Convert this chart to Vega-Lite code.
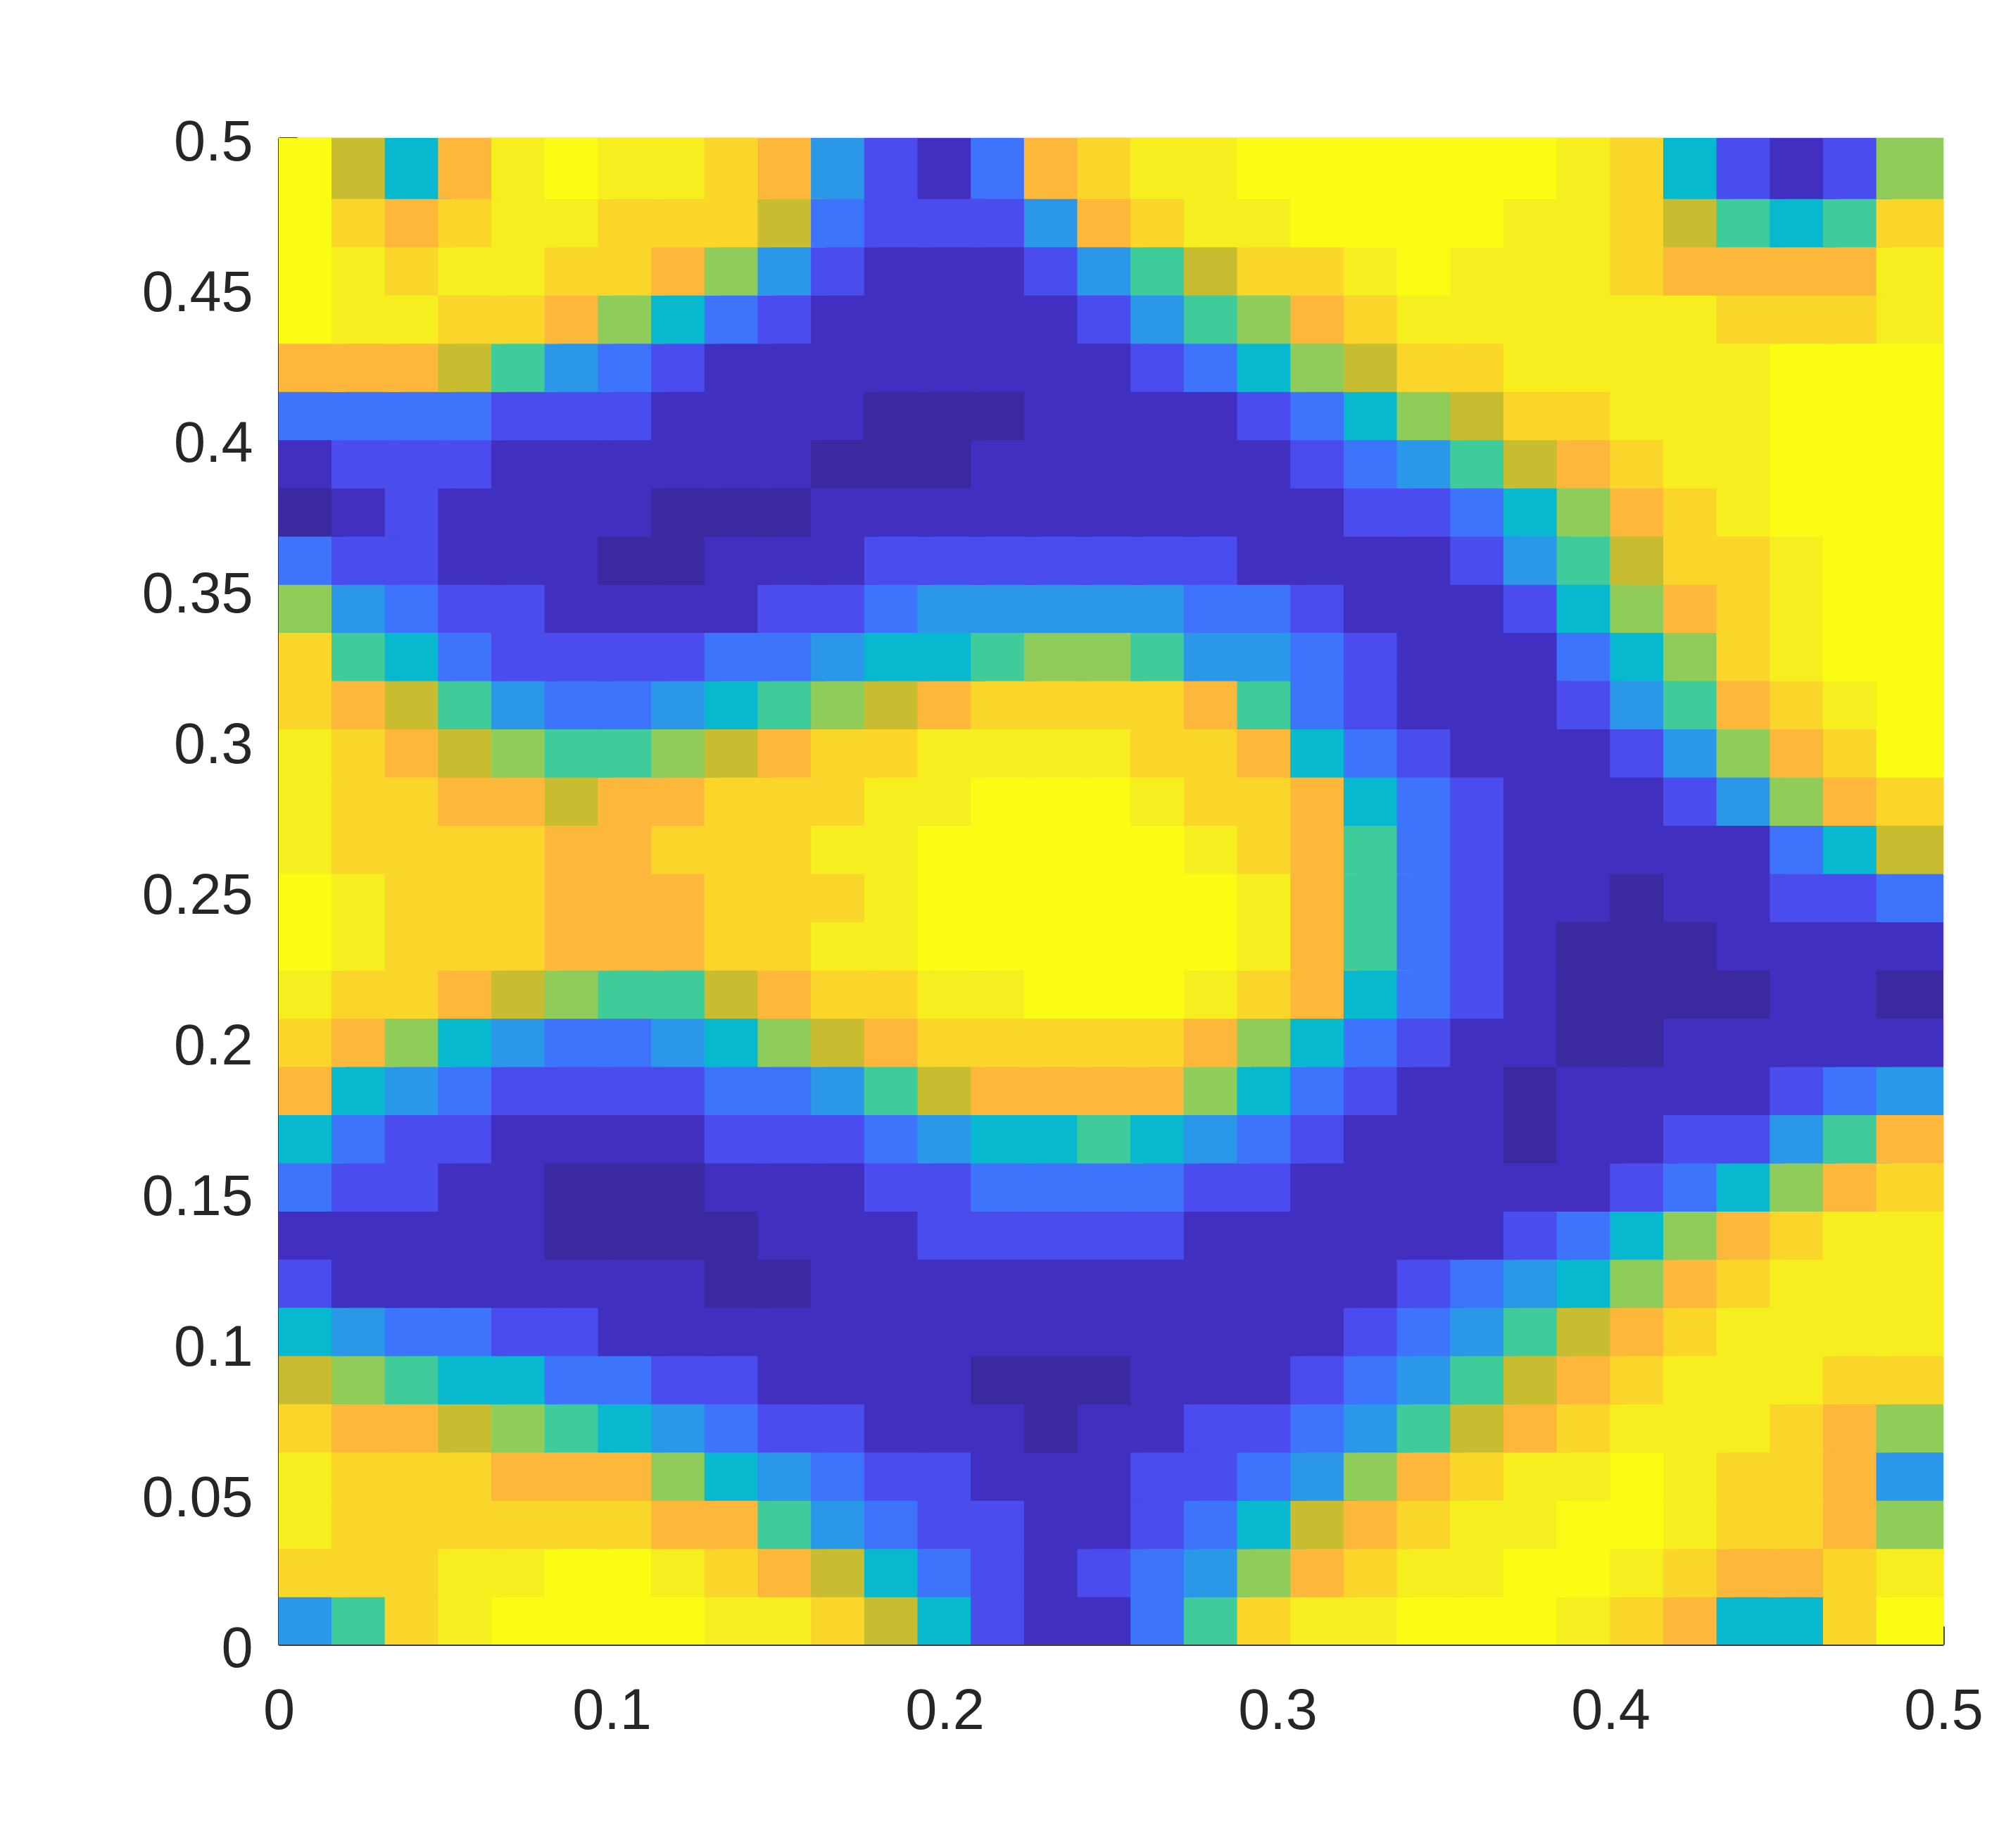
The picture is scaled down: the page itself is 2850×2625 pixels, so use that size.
{"$schema":"https://vega.github.io/schema/vega-lite/v6.json","width":2365,"height":2140,"autosize":{"type":"none"},"padding":{"left":396,"top":196,"right":89,"bottom":289},"background":"white","config":{"view":{"stroke":"#e6e6e6","strokeWidth":3}},
"data":{"values":[
{"x":0.01,"y":0.01,"v":4},{"x":0.026,"y":0.01,"v":6},{"x":0.042,"y":0.01,"v":10},{"x":0.058,"y":0.01,"v":11},{"x":0.074,"y":0.01,"v":12},{"x":0.09,"y":0.01,"v":12},{"x":0.106,"y":0.01,"v":12},{"x":0.122,"y":0.01,"v":12},{"x":0.138,"y":0.01,"v":11},{"x":0.154,"y":0.01,"v":11},{"x":0.17,"y":0.01,"v":10},{"x":0.186,"y":0.01,"v":8},{"x":0.202,"y":0.01,"v":5},{"x":0.218,"y":0.01,"v":2},{"x":0.234,"y":0.01,"v":1},{"x":0.25,"y":0.01,"v":1},{"x":0.266,"y":0.01,"v":3},{"x":0.282,"y":0.01,"v":6},{"x":0.298,"y":0.01,"v":10},{"x":0.314,"y":0.01,"v":11},{"x":0.33,"y":0.01,"v":11},{"x":0.346,"y":0.01,"v":12},{"x":0.362,"y":0.01,"v":12},{"x":0.378,"y":0.01,"v":12},{"x":0.394,"y":0.01,"v":11},{"x":0.41,"y":0.01,"v":10},{"x":0.426,"y":0.01,"v":9},{"x":0.442,"y":0.01,"v":5},{"x":0.458,"y":0.01,"v":5},{"x":0.474,"y":0.01,"v":10},{"x":0.49,"y":0.01,"v":12},
{"x":0.01,"y":0.026,"v":10},{"x":0.026,"y":0.026,"v":10},{"x":0.042,"y":0.026,"v":10},{"x":0.058,"y":0.026,"v":11},{"x":0.074,"y":0.026,"v":11},{"x":0.09,"y":0.026,"v":12},{"x":0.106,"y":0.026,"v":12},{"x":0.122,"y":0.026,"v":11},{"x":0.138,"y":0.026,"v":10},{"x":0.154,"y":0.026,"v":9},{"x":0.17,"y":0.026,"v":8},{"x":0.186,"y":0.026,"v":5},{"x":0.202,"y":0.026,"v":3},{"x":0.218,"y":0.026,"v":2},{"x":0.234,"y":0.026,"v":1},{"x":0.25,"y":0.026,"v":2},{"x":0.266,"y":0.026,"v":3},{"x":0.282,"y":0.026,"v":4},{"x":0.298,"y":0.026,"v":7},{"x":0.314,"y":0.026,"v":9},{"x":0.33,"y":0.026,"v":10},{"x":0.346,"y":0.026,"v":11},{"x":0.362,"y":0.026,"v":11},{"x":0.378,"y":0.026,"v":12},{"x":0.394,"y":0.026,"v":12},{"x":0.41,"y":0.026,"v":11},{"x":0.426,"y":0.026,"v":10},{"x":0.442,"y":0.026,"v":9},{"x":0.458,"y":0.026,"v":9},{"x":0.474,"y":0.026,"v":10},{"x":0.49,"y":0.026,"v":11},
{"x":0.01,"y":0.042,"v":11},{"x":0.026,"y":0.042,"v":10},{"x":0.042,"y":0.042,"v":10},{"x":0.058,"y":0.042,"v":10},{"x":0.074,"y":0.042,"v":10},{"x":0.09,"y":0.042,"v":10},{"x":0.106,"y":0.042,"v":10},{"x":0.122,"y":0.042,"v":9},{"x":0.138,"y":0.042,"v":9},{"x":0.154,"y":0.042,"v":6},{"x":0.17,"y":0.042,"v":4},{"x":0.186,"y":0.042,"v":3},{"x":0.202,"y":0.042,"v":2},{"x":0.218,"y":0.042,"v":2},{"x":0.234,"y":0.042,"v":1},{"x":0.25,"y":0.042,"v":1},{"x":0.266,"y":0.042,"v":2},{"x":0.282,"y":0.042,"v":3},{"x":0.298,"y":0.042,"v":5},{"x":0.314,"y":0.042,"v":8},{"x":0.33,"y":0.042,"v":9},{"x":0.346,"y":0.042,"v":10},{"x":0.362,"y":0.042,"v":11},{"x":0.378,"y":0.042,"v":11},{"x":0.394,"y":0.042,"v":12},{"x":0.41,"y":0.042,"v":12},{"x":0.426,"y":0.042,"v":11},{"x":0.442,"y":0.042,"v":10},{"x":0.458,"y":0.042,"v":10},{"x":0.474,"y":0.042,"v":9},{"x":0.49,"y":0.042,"v":7},
{"x":0.01,"y":0.058,"v":11},{"x":0.026,"y":0.058,"v":10},{"x":0.042,"y":0.058,"v":10},{"x":0.058,"y":0.058,"v":10},{"x":0.074,"y":0.058,"v":9},{"x":0.09,"y":0.058,"v":9},{"x":0.106,"y":0.058,"v":9},{"x":0.122,"y":0.058,"v":7},{"x":0.138,"y":0.058,"v":5},{"x":0.154,"y":0.058,"v":4},{"x":0.17,"y":0.058,"v":3},{"x":0.186,"y":0.058,"v":2},{"x":0.202,"y":0.058,"v":2},{"x":0.218,"y":0.058,"v":1},{"x":0.234,"y":0.058,"v":1},{"x":0.25,"y":0.058,"v":1},{"x":0.266,"y":0.058,"v":2},{"x":0.282,"y":0.058,"v":2},{"x":0.298,"y":0.058,"v":3},{"x":0.314,"y":0.058,"v":4},{"x":0.33,"y":0.058,"v":7},{"x":0.346,"y":0.058,"v":9},{"x":0.362,"y":0.058,"v":10},{"x":0.378,"y":0.058,"v":11},{"x":0.394,"y":0.058,"v":11},{"x":0.41,"y":0.058,"v":12},{"x":0.426,"y":0.058,"v":11},{"x":0.442,"y":0.058,"v":10},{"x":0.458,"y":0.058,"v":10},{"x":0.474,"y":0.058,"v":9},{"x":0.49,"y":0.058,"v":4},
{"x":0.01,"y":0.074,"v":10},{"x":0.026,"y":0.074,"v":9},{"x":0.042,"y":0.074,"v":9},{"x":0.058,"y":0.074,"v":8},{"x":0.074,"y":0.074,"v":7},{"x":0.09,"y":0.074,"v":6},{"x":0.106,"y":0.074,"v":5},{"x":0.122,"y":0.074,"v":4},{"x":0.138,"y":0.074,"v":3},{"x":0.154,"y":0.074,"v":2},{"x":0.17,"y":0.074,"v":2},{"x":0.186,"y":0.074,"v":1},{"x":0.202,"y":0.074,"v":1},{"x":0.218,"y":0.074,"v":1},{"x":0.234,"y":0.074,"v":0},{"x":0.25,"y":0.074,"v":1},{"x":0.266,"y":0.074,"v":1},{"x":0.282,"y":0.074,"v":2},{"x":0.298,"y":0.074,"v":2},{"x":0.314,"y":0.074,"v":3},{"x":0.33,"y":0.074,"v":4},{"x":0.346,"y":0.074,"v":6},{"x":0.362,"y":0.074,"v":8},{"x":0.378,"y":0.074,"v":9},{"x":0.394,"y":0.074,"v":10},{"x":0.41,"y":0.074,"v":11},{"x":0.426,"y":0.074,"v":11},{"x":0.442,"y":0.074,"v":11},{"x":0.458,"y":0.074,"v":10},{"x":0.474,"y":0.074,"v":9},{"x":0.49,"y":0.074,"v":7},
{"x":0.01,"y":0.09,"v":8},{"x":0.026,"y":0.09,"v":7},{"x":0.042,"y":0.09,"v":6},{"x":0.058,"y":0.09,"v":5},{"x":0.074,"y":0.09,"v":5},{"x":0.09,"y":0.09,"v":3},{"x":0.106,"y":0.09,"v":3},{"x":0.122,"y":0.09,"v":2},{"x":0.138,"y":0.09,"v":2},{"x":0.154,"y":0.09,"v":1},{"x":0.17,"y":0.09,"v":1},{"x":0.186,"y":0.09,"v":1},{"x":0.202,"y":0.09,"v":1},{"x":0.218,"y":0.09,"v":0},{"x":0.234,"y":0.09,"v":0},{"x":0.25,"y":0.09,"v":0},{"x":0.266,"y":0.09,"v":1},{"x":0.282,"y":0.09,"v":1},{"x":0.298,"y":0.09,"v":1},{"x":0.314,"y":0.09,"v":2},{"x":0.33,"y":0.09,"v":3},{"x":0.346,"y":0.09,"v":4},{"x":0.362,"y":0.09,"v":6},{"x":0.378,"y":0.09,"v":8},{"x":0.394,"y":0.09,"v":9},{"x":0.41,"y":0.09,"v":10},{"x":0.426,"y":0.09,"v":11},{"x":0.442,"y":0.09,"v":11},{"x":0.458,"y":0.09,"v":11},{"x":0.474,"y":0.09,"v":10},{"x":0.49,"y":0.09,"v":10},
{"x":0.01,"y":0.106,"v":5},{"x":0.026,"y":0.106,"v":4},{"x":0.042,"y":0.106,"v":3},{"x":0.058,"y":0.106,"v":3},{"x":0.074,"y":0.106,"v":2},{"x":0.09,"y":0.106,"v":2},{"x":0.106,"y":0.106,"v":1},{"x":0.122,"y":0.106,"v":1},{"x":0.138,"y":0.106,"v":1},{"x":0.154,"y":0.106,"v":1},{"x":0.17,"y":0.106,"v":1},{"x":0.186,"y":0.106,"v":1},{"x":0.202,"y":0.106,"v":1},{"x":0.218,"y":0.106,"v":1},{"x":0.234,"y":0.106,"v":1},{"x":0.25,"y":0.106,"v":1},{"x":0.266,"y":0.106,"v":1},{"x":0.282,"y":0.106,"v":1},{"x":0.298,"y":0.106,"v":1},{"x":0.314,"y":0.106,"v":1},{"x":0.33,"y":0.106,"v":2},{"x":0.346,"y":0.106,"v":3},{"x":0.362,"y":0.106,"v":4},{"x":0.378,"y":0.106,"v":6},{"x":0.394,"y":0.106,"v":8},{"x":0.41,"y":0.106,"v":9},{"x":0.426,"y":0.106,"v":10},{"x":0.442,"y":0.106,"v":11},{"x":0.458,"y":0.106,"v":11},{"x":0.474,"y":0.106,"v":11},{"x":0.49,"y":0.106,"v":11},
{"x":0.01,"y":0.122,"v":2},{"x":0.026,"y":0.122,"v":1},{"x":0.042,"y":0.122,"v":1},{"x":0.058,"y":0.122,"v":1},{"x":0.074,"y":0.122,"v":1},{"x":0.09,"y":0.122,"v":1},{"x":0.106,"y":0.122,"v":1},{"x":0.122,"y":0.122,"v":1},{"x":0.138,"y":0.122,"v":0},{"x":0.154,"y":0.122,"v":0},{"x":0.17,"y":0.122,"v":1},{"x":0.186,"y":0.122,"v":1},{"x":0.202,"y":0.122,"v":1},{"x":0.218,"y":0.122,"v":1},{"x":0.234,"y":0.122,"v":1},{"x":0.25,"y":0.122,"v":1},{"x":0.266,"y":0.122,"v":1},{"x":0.282,"y":0.122,"v":1},{"x":0.298,"y":0.122,"v":1},{"x":0.314,"y":0.122,"v":1},{"x":0.33,"y":0.122,"v":1},{"x":0.346,"y":0.122,"v":2},{"x":0.362,"y":0.122,"v":3},{"x":0.378,"y":0.122,"v":4},{"x":0.394,"y":0.122,"v":5},{"x":0.41,"y":0.122,"v":7},{"x":0.426,"y":0.122,"v":9},{"x":0.442,"y":0.122,"v":10},{"x":0.458,"y":0.122,"v":11},{"x":0.474,"y":0.122,"v":11},{"x":0.49,"y":0.122,"v":11},
{"x":0.01,"y":0.138,"v":1},{"x":0.026,"y":0.138,"v":1},{"x":0.042,"y":0.138,"v":1},{"x":0.058,"y":0.138,"v":1},{"x":0.074,"y":0.138,"v":1},{"x":0.09,"y":0.138,"v":0},{"x":0.106,"y":0.138,"v":0},{"x":0.122,"y":0.138,"v":0},{"x":0.138,"y":0.138,"v":0},{"x":0.154,"y":0.138,"v":1},{"x":0.17,"y":0.138,"v":1},{"x":0.186,"y":0.138,"v":1},{"x":0.202,"y":0.138,"v":2},{"x":0.218,"y":0.138,"v":2},{"x":0.234,"y":0.138,"v":2},{"x":0.25,"y":0.138,"v":2},{"x":0.266,"y":0.138,"v":2},{"x":0.282,"y":0.138,"v":1},{"x":0.298,"y":0.138,"v":1},{"x":0.314,"y":0.138,"v":1},{"x":0.33,"y":0.138,"v":1},{"x":0.346,"y":0.138,"v":1},{"x":0.362,"y":0.138,"v":1},{"x":0.378,"y":0.138,"v":2},{"x":0.394,"y":0.138,"v":3},{"x":0.41,"y":0.138,"v":5},{"x":0.426,"y":0.138,"v":7},{"x":0.442,"y":0.138,"v":9},{"x":0.458,"y":0.138,"v":10},{"x":0.474,"y":0.138,"v":11},{"x":0.49,"y":0.138,"v":11},
{"x":0.01,"y":0.154,"v":3},{"x":0.026,"y":0.154,"v":2},{"x":0.042,"y":0.154,"v":2},{"x":0.058,"y":0.154,"v":1},{"x":0.074,"y":0.154,"v":1},{"x":0.09,"y":0.154,"v":0},{"x":0.106,"y":0.154,"v":0},{"x":0.122,"y":0.154,"v":0},{"x":0.138,"y":0.154,"v":1},{"x":0.154,"y":0.154,"v":1},{"x":0.17,"y":0.154,"v":1},{"x":0.186,"y":0.154,"v":2},{"x":0.202,"y":0.154,"v":2},{"x":0.218,"y":0.154,"v":3},{"x":0.234,"y":0.154,"v":3},{"x":0.25,"y":0.154,"v":3},{"x":0.266,"y":0.154,"v":3},{"x":0.282,"y":0.154,"v":2},{"x":0.298,"y":0.154,"v":2},{"x":0.314,"y":0.154,"v":1},{"x":0.33,"y":0.154,"v":1},{"x":0.346,"y":0.154,"v":1},{"x":0.362,"y":0.154,"v":1},{"x":0.378,"y":0.154,"v":1},{"x":0.394,"y":0.154,"v":1},{"x":0.41,"y":0.154,"v":2},{"x":0.426,"y":0.154,"v":3},{"x":0.442,"y":0.154,"v":5},{"x":0.458,"y":0.154,"v":7},{"x":0.474,"y":0.154,"v":9},{"x":0.49,"y":0.154,"v":10},
{"x":0.01,"y":0.17,"v":5},{"x":0.026,"y":0.17,"v":3},{"x":0.042,"y":0.17,"v":2},{"x":0.058,"y":0.17,"v":2},{"x":0.074,"y":0.17,"v":1},{"x":0.09,"y":0.17,"v":1},{"x":0.106,"y":0.17,"v":1},{"x":0.122,"y":0.17,"v":1},{"x":0.138,"y":0.17,"v":2},{"x":0.154,"y":0.17,"v":2},{"x":0.17,"y":0.17,"v":2},{"x":0.186,"y":0.17,"v":3},{"x":0.202,"y":0.17,"v":4},{"x":0.218,"y":0.17,"v":5},{"x":0.234,"y":0.17,"v":5},{"x":0.25,"y":0.17,"v":6},{"x":0.266,"y":0.17,"v":5},{"x":0.282,"y":0.17,"v":4},{"x":0.298,"y":0.17,"v":3},{"x":0.314,"y":0.17,"v":2},{"x":0.33,"y":0.17,"v":1},{"x":0.346,"y":0.17,"v":1},{"x":0.362,"y":0.17,"v":1},{"x":0.378,"y":0.17,"v":0},{"x":0.394,"y":0.17,"v":1},{"x":0.41,"y":0.17,"v":1},{"x":0.426,"y":0.17,"v":2},{"x":0.442,"y":0.17,"v":2},{"x":0.458,"y":0.17,"v":4},{"x":0.474,"y":0.17,"v":6},{"x":0.49,"y":0.17,"v":9},
{"x":0.01,"y":0.186,"v":9},{"x":0.026,"y":0.186,"v":5},{"x":0.042,"y":0.186,"v":4},{"x":0.058,"y":0.186,"v":3},{"x":0.074,"y":0.186,"v":2},{"x":0.09,"y":0.186,"v":2},{"x":0.106,"y":0.186,"v":2},{"x":0.122,"y":0.186,"v":2},{"x":0.138,"y":0.186,"v":3},{"x":0.154,"y":0.186,"v":3},{"x":0.17,"y":0.186,"v":4},{"x":0.186,"y":0.186,"v":6},{"x":0.202,"y":0.186,"v":8},{"x":0.218,"y":0.186,"v":9},{"x":0.234,"y":0.186,"v":9},{"x":0.25,"y":0.186,"v":9},{"x":0.266,"y":0.186,"v":9},{"x":0.282,"y":0.186,"v":7},{"x":0.298,"y":0.186,"v":5},{"x":0.314,"y":0.186,"v":3},{"x":0.33,"y":0.186,"v":2},{"x":0.346,"y":0.186,"v":1},{"x":0.362,"y":0.186,"v":1},{"x":0.378,"y":0.186,"v":0},{"x":0.394,"y":0.186,"v":1},{"x":0.41,"y":0.186,"v":1},{"x":0.426,"y":0.186,"v":1},{"x":0.442,"y":0.186,"v":1},{"x":0.458,"y":0.186,"v":2},{"x":0.474,"y":0.186,"v":3},{"x":0.49,"y":0.186,"v":4},
{"x":0.01,"y":0.202,"v":10},{"x":0.026,"y":0.202,"v":9},{"x":0.042,"y":0.202,"v":7},{"x":0.058,"y":0.202,"v":5},{"x":0.074,"y":0.202,"v":4},{"x":0.09,"y":0.202,"v":3},{"x":0.106,"y":0.202,"v":3},{"x":0.122,"y":0.202,"v":4},{"x":0.138,"y":0.202,"v":5},{"x":0.154,"y":0.202,"v":7},{"x":0.17,"y":0.202,"v":8},{"x":0.186,"y":0.202,"v":9},{"x":0.202,"y":0.202,"v":10},{"x":0.218,"y":0.202,"v":10},{"x":0.234,"y":0.202,"v":10},{"x":0.25,"y":0.202,"v":10},{"x":0.266,"y":0.202,"v":10},{"x":0.282,"y":0.202,"v":9},{"x":0.298,"y":0.202,"v":7},{"x":0.314,"y":0.202,"v":5},{"x":0.33,"y":0.202,"v":3},{"x":0.346,"y":0.202,"v":2},{"x":0.362,"y":0.202,"v":1},{"x":0.378,"y":0.202,"v":1},{"x":0.394,"y":0.202,"v":0},{"x":0.41,"y":0.202,"v":0},{"x":0.426,"y":0.202,"v":1},{"x":0.442,"y":0.202,"v":1},{"x":0.458,"y":0.202,"v":1},{"x":0.474,"y":0.202,"v":1},{"x":0.49,"y":0.202,"v":1},
{"x":0.01,"y":0.218,"v":11},{"x":0.026,"y":0.218,"v":10},{"x":0.042,"y":0.218,"v":10},{"x":0.058,"y":0.218,"v":9},{"x":0.074,"y":0.218,"v":8},{"x":0.09,"y":0.218,"v":7},{"x":0.106,"y":0.218,"v":6},{"x":0.122,"y":0.218,"v":6},{"x":0.138,"y":0.218,"v":8},{"x":0.154,"y":0.218,"v":9},{"x":0.17,"y":0.218,"v":10},{"x":0.186,"y":0.218,"v":10},{"x":0.202,"y":0.218,"v":11},{"x":0.218,"y":0.218,"v":11},{"x":0.234,"y":0.218,"v":12},{"x":0.25,"y":0.218,"v":12},{"x":0.266,"y":0.218,"v":12},{"x":0.282,"y":0.218,"v":11},{"x":0.298,"y":0.218,"v":10},{"x":0.314,"y":0.218,"v":9},{"x":0.33,"y":0.218,"v":5},{"x":0.346,"y":0.218,"v":3},{"x":0.362,"y":0.218,"v":2},{"x":0.378,"y":0.218,"v":1},{"x":0.394,"y":0.218,"v":0},{"x":0.41,"y":0.218,"v":0},{"x":0.426,"y":0.218,"v":0},{"x":0.442,"y":0.218,"v":0},{"x":0.458,"y":0.218,"v":1},{"x":0.474,"y":0.218,"v":1},{"x":0.49,"y":0.218,"v":0},
{"x":0.01,"y":0.234,"v":12},{"x":0.026,"y":0.234,"v":11},{"x":0.042,"y":0.234,"v":10},{"x":0.058,"y":0.234,"v":10},{"x":0.074,"y":0.234,"v":10},{"x":0.09,"y":0.234,"v":9},{"x":0.106,"y":0.234,"v":9},{"x":0.122,"y":0.234,"v":9},{"x":0.138,"y":0.234,"v":10},{"x":0.154,"y":0.234,"v":10},{"x":0.17,"y":0.234,"v":11},{"x":0.186,"y":0.234,"v":11},{"x":0.202,"y":0.234,"v":12},{"x":0.218,"y":0.234,"v":12},{"x":0.234,"y":0.234,"v":12},{"x":0.25,"y":0.234,"v":12},{"x":0.266,"y":0.234,"v":12},{"x":0.282,"y":0.234,"v":12},{"x":0.298,"y":0.234,"v":11},{"x":0.314,"y":0.234,"v":9},{"x":0.33,"y":0.234,"v":6},{"x":0.346,"y":0.234,"v":3},{"x":0.362,"y":0.234,"v":2},{"x":0.378,"y":0.234,"v":1},{"x":0.394,"y":0.234,"v":0},{"x":0.41,"y":0.234,"v":0},{"x":0.426,"y":0.234,"v":0},{"x":0.442,"y":0.234,"v":1},{"x":0.458,"y":0.234,"v":1},{"x":0.474,"y":0.234,"v":1},{"x":0.49,"y":0.234,"v":1},
{"x":0.01,"y":0.25,"v":12},{"x":0.026,"y":0.25,"v":11},{"x":0.042,"y":0.25,"v":10},{"x":0.058,"y":0.25,"v":10},{"x":0.074,"y":0.25,"v":10},{"x":0.09,"y":0.25,"v":9},{"x":0.106,"y":0.25,"v":9},{"x":0.122,"y":0.25,"v":9},{"x":0.138,"y":0.25,"v":10},{"x":0.154,"y":0.25,"v":10},{"x":0.17,"y":0.25,"v":10},{"x":0.186,"y":0.25,"v":11},{"x":0.202,"y":0.25,"v":12},{"x":0.218,"y":0.25,"v":12},{"x":0.234,"y":0.25,"v":12},{"x":0.25,"y":0.25,"v":12},{"x":0.266,"y":0.25,"v":12},{"x":0.282,"y":0.25,"v":12},{"x":0.298,"y":0.25,"v":11},{"x":0.314,"y":0.25,"v":9},{"x":0.33,"y":0.25,"v":6},{"x":0.346,"y":0.25,"v":3},{"x":0.362,"y":0.25,"v":2},{"x":0.378,"y":0.25,"v":1},{"x":0.394,"y":0.25,"v":1},{"x":0.41,"y":0.25,"v":0},{"x":0.426,"y":0.25,"v":1},{"x":0.442,"y":0.25,"v":1},{"x":0.458,"y":0.25,"v":2},{"x":0.474,"y":0.25,"v":2},{"x":0.49,"y":0.25,"v":3},
{"x":0.01,"y":0.266,"v":11},{"x":0.026,"y":0.266,"v":10},{"x":0.042,"y":0.266,"v":10},{"x":0.058,"y":0.266,"v":10},{"x":0.074,"y":0.266,"v":10},{"x":0.09,"y":0.266,"v":9},{"x":0.106,"y":0.266,"v":9},{"x":0.122,"y":0.266,"v":10},{"x":0.138,"y":0.266,"v":10},{"x":0.154,"y":0.266,"v":10},{"x":0.17,"y":0.266,"v":11},{"x":0.186,"y":0.266,"v":11},{"x":0.202,"y":0.266,"v":12},{"x":0.218,"y":0.266,"v":12},{"x":0.234,"y":0.266,"v":12},{"x":0.25,"y":0.266,"v":12},{"x":0.266,"y":0.266,"v":12},{"x":0.282,"y":0.266,"v":11},{"x":0.298,"y":0.266,"v":10},{"x":0.314,"y":0.266,"v":9},{"x":0.33,"y":0.266,"v":6},{"x":0.346,"y":0.266,"v":3},{"x":0.362,"y":0.266,"v":2},{"x":0.378,"y":0.266,"v":1},{"x":0.394,"y":0.266,"v":1},{"x":0.41,"y":0.266,"v":1},{"x":0.426,"y":0.266,"v":1},{"x":0.442,"y":0.266,"v":1},{"x":0.458,"y":0.266,"v":3},{"x":0.474,"y":0.266,"v":5},{"x":0.49,"y":0.266,"v":8},
{"x":0.01,"y":0.282,"v":11},{"x":0.026,"y":0.282,"v":10},{"x":0.042,"y":0.282,"v":10},{"x":0.058,"y":0.282,"v":9},{"x":0.074,"y":0.282,"v":9},{"x":0.09,"y":0.282,"v":8},{"x":0.106,"y":0.282,"v":9},{"x":0.122,"y":0.282,"v":9},{"x":0.138,"y":0.282,"v":10},{"x":0.154,"y":0.282,"v":10},{"x":0.17,"y":0.282,"v":10},{"x":0.186,"y":0.282,"v":11},{"x":0.202,"y":0.282,"v":11},{"x":0.218,"y":0.282,"v":12},{"x":0.234,"y":0.282,"v":12},{"x":0.25,"y":0.282,"v":12},{"x":0.266,"y":0.282,"v":11},{"x":0.282,"y":0.282,"v":10},{"x":0.298,"y":0.282,"v":10},{"x":0.314,"y":0.282,"v":9},{"x":0.33,"y":0.282,"v":5},{"x":0.346,"y":0.282,"v":3},{"x":0.362,"y":0.282,"v":2},{"x":0.378,"y":0.282,"v":1},{"x":0.394,"y":0.282,"v":1},{"x":0.41,"y":0.282,"v":1},{"x":0.426,"y":0.282,"v":2},{"x":0.442,"y":0.282,"v":4},{"x":0.458,"y":0.282,"v":7},{"x":0.474,"y":0.282,"v":9},{"x":0.49,"y":0.282,"v":10},
{"x":0.01,"y":0.298,"v":11},{"x":0.026,"y":0.298,"v":10},{"x":0.042,"y":0.298,"v":9},{"x":0.058,"y":0.298,"v":8},{"x":0.074,"y":0.298,"v":7},{"x":0.09,"y":0.298,"v":6},{"x":0.106,"y":0.298,"v":6},{"x":0.122,"y":0.298,"v":7},{"x":0.138,"y":0.298,"v":8},{"x":0.154,"y":0.298,"v":9},{"x":0.17,"y":0.298,"v":10},{"x":0.186,"y":0.298,"v":10},{"x":0.202,"y":0.298,"v":11},{"x":0.218,"y":0.298,"v":11},{"x":0.234,"y":0.298,"v":11},{"x":0.25,"y":0.298,"v":11},{"x":0.266,"y":0.298,"v":10},{"x":0.282,"y":0.298,"v":10},{"x":0.298,"y":0.298,"v":9},{"x":0.314,"y":0.298,"v":5},{"x":0.33,"y":0.298,"v":3},{"x":0.346,"y":0.298,"v":2},{"x":0.362,"y":0.298,"v":1},{"x":0.378,"y":0.298,"v":1},{"x":0.394,"y":0.298,"v":1},{"x":0.41,"y":0.298,"v":2},{"x":0.426,"y":0.298,"v":4},{"x":0.442,"y":0.298,"v":7},{"x":0.458,"y":0.298,"v":9},{"x":0.474,"y":0.298,"v":10},{"x":0.49,"y":0.298,"v":12},
{"x":0.01,"y":0.314,"v":10},{"x":0.026,"y":0.314,"v":9},{"x":0.042,"y":0.314,"v":8},{"x":0.058,"y":0.314,"v":6},{"x":0.074,"y":0.314,"v":4},{"x":0.09,"y":0.314,"v":3},{"x":0.106,"y":0.314,"v":3},{"x":0.122,"y":0.314,"v":4},{"x":0.138,"y":0.314,"v":5},{"x":0.154,"y":0.314,"v":6},{"x":0.17,"y":0.314,"v":7},{"x":0.186,"y":0.314,"v":8},{"x":0.202,"y":0.314,"v":9},{"x":0.218,"y":0.314,"v":10},{"x":0.234,"y":0.314,"v":10},{"x":0.25,"y":0.314,"v":10},{"x":0.266,"y":0.314,"v":10},{"x":0.282,"y":0.314,"v":9},{"x":0.298,"y":0.314,"v":6},{"x":0.314,"y":0.314,"v":3},{"x":0.33,"y":0.314,"v":2},{"x":0.346,"y":0.314,"v":1},{"x":0.362,"y":0.314,"v":1},{"x":0.378,"y":0.314,"v":1},{"x":0.394,"y":0.314,"v":2},{"x":0.41,"y":0.314,"v":4},{"x":0.426,"y":0.314,"v":6},{"x":0.442,"y":0.314,"v":9},{"x":0.458,"y":0.314,"v":10},{"x":0.474,"y":0.314,"v":11},{"x":0.49,"y":0.314,"v":12},
{"x":0.01,"y":0.33,"v":10},{"x":0.026,"y":0.33,"v":6},{"x":0.042,"y":0.33,"v":5},{"x":0.058,"y":0.33,"v":3},{"x":0.074,"y":0.33,"v":2},{"x":0.09,"y":0.33,"v":2},{"x":0.106,"y":0.33,"v":2},{"x":0.122,"y":0.33,"v":2},{"x":0.138,"y":0.33,"v":3},{"x":0.154,"y":0.33,"v":3},{"x":0.17,"y":0.33,"v":4},{"x":0.186,"y":0.33,"v":5},{"x":0.202,"y":0.33,"v":5},{"x":0.218,"y":0.33,"v":6},{"x":0.234,"y":0.33,"v":7},{"x":0.25,"y":0.33,"v":7},{"x":0.266,"y":0.33,"v":6},{"x":0.282,"y":0.33,"v":4},{"x":0.298,"y":0.33,"v":4},{"x":0.314,"y":0.33,"v":3},{"x":0.33,"y":0.33,"v":2},{"x":0.346,"y":0.33,"v":1},{"x":0.362,"y":0.33,"v":1},{"x":0.378,"y":0.33,"v":1},{"x":0.394,"y":0.33,"v":3},{"x":0.41,"y":0.33,"v":5},{"x":0.426,"y":0.33,"v":7},{"x":0.442,"y":0.33,"v":10},{"x":0.458,"y":0.33,"v":11},{"x":0.474,"y":0.33,"v":12},{"x":0.49,"y":0.33,"v":12},
{"x":0.01,"y":0.346,"v":7},{"x":0.026,"y":0.346,"v":4},{"x":0.042,"y":0.346,"v":3},{"x":0.058,"y":0.346,"v":2},{"x":0.074,"y":0.346,"v":2},{"x":0.09,"y":0.346,"v":1},{"x":0.106,"y":0.346,"v":1},{"x":0.122,"y":0.346,"v":1},{"x":0.138,"y":0.346,"v":1},{"x":0.154,"y":0.346,"v":2},{"x":0.17,"y":0.346,"v":2},{"x":0.186,"y":0.346,"v":3},{"x":0.202,"y":0.346,"v":4},{"x":0.218,"y":0.346,"v":4},{"x":0.234,"y":0.346,"v":4},{"x":0.25,"y":0.346,"v":4},{"x":0.266,"y":0.346,"v":4},{"x":0.282,"y":0.346,"v":3},{"x":0.298,"y":0.346,"v":3},{"x":0.314,"y":0.346,"v":2},{"x":0.33,"y":0.346,"v":1},{"x":0.346,"y":0.346,"v":1},{"x":0.362,"y":0.346,"v":1},{"x":0.378,"y":0.346,"v":2},{"x":0.394,"y":0.346,"v":5},{"x":0.41,"y":0.346,"v":7},{"x":0.426,"y":0.346,"v":9},{"x":0.442,"y":0.346,"v":10},{"x":0.458,"y":0.346,"v":11},{"x":0.474,"y":0.346,"v":12},{"x":0.49,"y":0.346,"v":12},
{"x":0.01,"y":0.362,"v":3},{"x":0.026,"y":0.362,"v":2},{"x":0.042,"y":0.362,"v":2},{"x":0.058,"y":0.362,"v":1},{"x":0.074,"y":0.362,"v":1},{"x":0.09,"y":0.362,"v":1},{"x":0.106,"y":0.362,"v":0},{"x":0.122,"y":0.362,"v":0},{"x":0.138,"y":0.362,"v":1},{"x":0.154,"y":0.362,"v":1},{"x":0.17,"y":0.362,"v":1},{"x":0.186,"y":0.362,"v":2},{"x":0.202,"y":0.362,"v":2},{"x":0.218,"y":0.362,"v":2},{"x":0.234,"y":0.362,"v":2},{"x":0.25,"y":0.362,"v":2},{"x":0.266,"y":0.362,"v":2},{"x":0.282,"y":0.362,"v":2},{"x":0.298,"y":0.362,"v":1},{"x":0.314,"y":0.362,"v":1},{"x":0.33,"y":0.362,"v":1},{"x":0.346,"y":0.362,"v":1},{"x":0.362,"y":0.362,"v":2},{"x":0.378,"y":0.362,"v":4},{"x":0.394,"y":0.362,"v":6},{"x":0.41,"y":0.362,"v":8},{"x":0.426,"y":0.362,"v":10},{"x":0.442,"y":0.362,"v":10},{"x":0.458,"y":0.362,"v":11},{"x":0.474,"y":0.362,"v":12},{"x":0.49,"y":0.362,"v":12},
{"x":0.01,"y":0.378,"v":0},{"x":0.026,"y":0.378,"v":1},{"x":0.042,"y":0.378,"v":2},{"x":0.058,"y":0.378,"v":1},{"x":0.074,"y":0.378,"v":1},{"x":0.09,"y":0.378,"v":1},{"x":0.106,"y":0.378,"v":1},{"x":0.122,"y":0.378,"v":0},{"x":0.138,"y":0.378,"v":0},{"x":0.154,"y":0.378,"v":0},{"x":0.17,"y":0.378,"v":1},{"x":0.186,"y":0.378,"v":1},{"x":0.202,"y":0.378,"v":1},{"x":0.218,"y":0.378,"v":1},{"x":0.234,"y":0.378,"v":1},{"x":0.25,"y":0.378,"v":1},{"x":0.266,"y":0.378,"v":1},{"x":0.282,"y":0.378,"v":1},{"x":0.298,"y":0.378,"v":1},{"x":0.314,"y":0.378,"v":1},{"x":0.33,"y":0.378,"v":2},{"x":0.346,"y":0.378,"v":2},{"x":0.362,"y":0.378,"v":3},{"x":0.378,"y":0.378,"v":5},{"x":0.394,"y":0.378,"v":7},{"x":0.41,"y":0.378,"v":9},{"x":0.426,"y":0.378,"v":10},{"x":0.442,"y":0.378,"v":11},{"x":0.458,"y":0.378,"v":12},{"x":0.474,"y":0.378,"v":12},{"x":0.49,"y":0.378,"v":12},
{"x":0.01,"y":0.394,"v":1},{"x":0.026,"y":0.394,"v":2},{"x":0.042,"y":0.394,"v":2},{"x":0.058,"y":0.394,"v":2},{"x":0.074,"y":0.394,"v":1},{"x":0.09,"y":0.394,"v":1},{"x":0.106,"y":0.394,"v":1},{"x":0.122,"y":0.394,"v":1},{"x":0.138,"y":0.394,"v":1},{"x":0.154,"y":0.394,"v":1},{"x":0.17,"y":0.394,"v":0},{"x":0.186,"y":0.394,"v":0},{"x":0.202,"y":0.394,"v":0},{"x":0.218,"y":0.394,"v":1},{"x":0.234,"y":0.394,"v":1},{"x":0.25,"y":0.394,"v":1},{"x":0.266,"y":0.394,"v":1},{"x":0.282,"y":0.394,"v":1},{"x":0.298,"y":0.394,"v":1},{"x":0.314,"y":0.394,"v":2},{"x":0.33,"y":0.394,"v":3},{"x":0.346,"y":0.394,"v":4},{"x":0.362,"y":0.394,"v":6},{"x":0.378,"y":0.394,"v":8},{"x":0.394,"y":0.394,"v":9},{"x":0.41,"y":0.394,"v":10},{"x":0.426,"y":0.394,"v":11},{"x":0.442,"y":0.394,"v":11},{"x":0.458,"y":0.394,"v":12},{"x":0.474,"y":0.394,"v":12},{"x":0.49,"y":0.394,"v":12},
{"x":0.01,"y":0.41,"v":3},{"x":0.026,"y":0.41,"v":3},{"x":0.042,"y":0.41,"v":3},{"x":0.058,"y":0.41,"v":3},{"x":0.074,"y":0.41,"v":2},{"x":0.09,"y":0.41,"v":2},{"x":0.106,"y":0.41,"v":2},{"x":0.122,"y":0.41,"v":1},{"x":0.138,"y":0.41,"v":1},{"x":0.154,"y":0.41,"v":1},{"x":0.17,"y":0.41,"v":1},{"x":0.186,"y":0.41,"v":0},{"x":0.202,"y":0.41,"v":0},{"x":0.218,"y":0.41,"v":0},{"x":0.234,"y":0.41,"v":1},{"x":0.25,"y":0.41,"v":1},{"x":0.266,"y":0.41,"v":1},{"x":0.282,"y":0.41,"v":1},{"x":0.298,"y":0.41,"v":2},{"x":0.314,"y":0.41,"v":3},{"x":0.33,"y":0.41,"v":5},{"x":0.346,"y":0.41,"v":7},{"x":0.362,"y":0.41,"v":8},{"x":0.378,"y":0.41,"v":10},{"x":0.394,"y":0.41,"v":10},{"x":0.41,"y":0.41,"v":11},{"x":0.426,"y":0.41,"v":11},{"x":0.442,"y":0.41,"v":11},{"x":0.458,"y":0.41,"v":12},{"x":0.474,"y":0.41,"v":12},{"x":0.49,"y":0.41,"v":12},
{"x":0.01,"y":0.426,"v":9},{"x":0.026,"y":0.426,"v":9},{"x":0.042,"y":0.426,"v":9},{"x":0.058,"y":0.426,"v":8},{"x":0.074,"y":0.426,"v":6},{"x":0.09,"y":0.426,"v":4},{"x":0.106,"y":0.426,"v":3},{"x":0.122,"y":0.426,"v":2},{"x":0.138,"y":0.426,"v":1},{"x":0.154,"y":0.426,"v":1},{"x":0.17,"y":0.426,"v":1},{"x":0.186,"y":0.426,"v":1},{"x":0.202,"y":0.426,"v":1},{"x":0.218,"y":0.426,"v":1},{"x":0.234,"y":0.426,"v":1},{"x":0.25,"y":0.426,"v":1},{"x":0.266,"y":0.426,"v":2},{"x":0.282,"y":0.426,"v":3},{"x":0.298,"y":0.426,"v":5},{"x":0.314,"y":0.426,"v":7},{"x":0.33,"y":0.426,"v":8},{"x":0.346,"y":0.426,"v":10},{"x":0.362,"y":0.426,"v":10},{"x":0.378,"y":0.426,"v":11},{"x":0.394,"y":0.426,"v":11},{"x":0.41,"y":0.426,"v":11},{"x":0.426,"y":0.426,"v":11},{"x":0.442,"y":0.426,"v":11},{"x":0.458,"y":0.426,"v":12},{"x":0.474,"y":0.426,"v":12},{"x":0.49,"y":0.426,"v":12},
{"x":0.01,"y":0.442,"v":12},{"x":0.026,"y":0.442,"v":11},{"x":0.042,"y":0.442,"v":11},{"x":0.058,"y":0.442,"v":10},{"x":0.074,"y":0.442,"v":10},{"x":0.09,"y":0.442,"v":9},{"x":0.106,"y":0.442,"v":7},{"x":0.122,"y":0.442,"v":5},{"x":0.138,"y":0.442,"v":3},{"x":0.154,"y":0.442,"v":2},{"x":0.17,"y":0.442,"v":1},{"x":0.186,"y":0.442,"v":1},{"x":0.202,"y":0.442,"v":1},{"x":0.218,"y":0.442,"v":1},{"x":0.234,"y":0.442,"v":1},{"x":0.25,"y":0.442,"v":2},{"x":0.266,"y":0.442,"v":4},{"x":0.282,"y":0.442,"v":6},{"x":0.298,"y":0.442,"v":7},{"x":0.314,"y":0.442,"v":9},{"x":0.33,"y":0.442,"v":10},{"x":0.346,"y":0.442,"v":11},{"x":0.362,"y":0.442,"v":11},{"x":0.378,"y":0.442,"v":11},{"x":0.394,"y":0.442,"v":11},{"x":0.41,"y":0.442,"v":11},{"x":0.426,"y":0.442,"v":11},{"x":0.442,"y":0.442,"v":10},{"x":0.458,"y":0.442,"v":10},{"x":0.474,"y":0.442,"v":10},{"x":0.49,"y":0.442,"v":11},
{"x":0.01,"y":0.458,"v":12},{"x":0.026,"y":0.458,"v":11},{"x":0.042,"y":0.458,"v":10},{"x":0.058,"y":0.458,"v":11},{"x":0.074,"y":0.458,"v":11},{"x":0.09,"y":0.458,"v":10},{"x":0.106,"y":0.458,"v":10},{"x":0.122,"y":0.458,"v":9},{"x":0.138,"y":0.458,"v":7},{"x":0.154,"y":0.458,"v":4},{"x":0.17,"y":0.458,"v":2},{"x":0.186,"y":0.458,"v":1},{"x":0.202,"y":0.458,"v":1},{"x":0.218,"y":0.458,"v":1},{"x":0.234,"y":0.458,"v":2},{"x":0.25,"y":0.458,"v":4},{"x":0.266,"y":0.458,"v":6},{"x":0.282,"y":0.458,"v":8},{"x":0.298,"y":0.458,"v":10},{"x":0.314,"y":0.458,"v":10},{"x":0.33,"y":0.458,"v":11},{"x":0.346,"y":0.458,"v":12},{"x":0.362,"y":0.458,"v":11},{"x":0.378,"y":0.458,"v":11},{"x":0.394,"y":0.458,"v":11},{"x":0.41,"y":0.458,"v":10},{"x":0.426,"y":0.458,"v":9},{"x":0.442,"y":0.458,"v":9},{"x":0.458,"y":0.458,"v":9},{"x":0.474,"y":0.458,"v":9},{"x":0.49,"y":0.458,"v":11},
{"x":0.01,"y":0.474,"v":12},{"x":0.026,"y":0.474,"v":10},{"x":0.042,"y":0.474,"v":9},{"x":0.058,"y":0.474,"v":10},{"x":0.074,"y":0.474,"v":11},{"x":0.09,"y":0.474,"v":11},{"x":0.106,"y":0.474,"v":10},{"x":0.122,"y":0.474,"v":10},{"x":0.138,"y":0.474,"v":10},{"x":0.154,"y":0.474,"v":8},{"x":0.17,"y":0.474,"v":3},{"x":0.186,"y":0.474,"v":2},{"x":0.202,"y":0.474,"v":2},{"x":0.218,"y":0.474,"v":2},{"x":0.234,"y":0.474,"v":4},{"x":0.25,"y":0.474,"v":9},{"x":0.266,"y":0.474,"v":10},{"x":0.282,"y":0.474,"v":11},{"x":0.298,"y":0.474,"v":11},{"x":0.314,"y":0.474,"v":12},{"x":0.33,"y":0.474,"v":12},{"x":0.346,"y":0.474,"v":12},{"x":0.362,"y":0.474,"v":12},{"x":0.378,"y":0.474,"v":11},{"x":0.394,"y":0.474,"v":11},{"x":0.41,"y":0.474,"v":10},{"x":0.426,"y":0.474,"v":8},{"x":0.442,"y":0.474,"v":6},{"x":0.458,"y":0.474,"v":5},{"x":0.474,"y":0.474,"v":6},{"x":0.49,"y":0.474,"v":10},
{"x":0.01,"y":0.49,"v":12},{"x":0.026,"y":0.49,"v":8},{"x":0.042,"y":0.49,"v":5},{"x":0.058,"y":0.49,"v":9},{"x":0.074,"y":0.49,"v":11},{"x":0.09,"y":0.49,"v":12},{"x":0.106,"y":0.49,"v":11},{"x":0.122,"y":0.49,"v":11},{"x":0.138,"y":0.49,"v":10},{"x":0.154,"y":0.49,"v":9},{"x":0.17,"y":0.49,"v":4},{"x":0.186,"y":0.49,"v":2},{"x":0.202,"y":0.49,"v":1},{"x":0.218,"y":0.49,"v":3},{"x":0.234,"y":0.49,"v":9},{"x":0.25,"y":0.49,"v":10},{"x":0.266,"y":0.49,"v":11},{"x":0.282,"y":0.49,"v":11},{"x":0.298,"y":0.49,"v":12},{"x":0.314,"y":0.49,"v":12},{"x":0.33,"y":0.49,"v":12},{"x":0.346,"y":0.49,"v":12},{"x":0.362,"y":0.49,"v":12},{"x":0.378,"y":0.49,"v":12},{"x":0.394,"y":0.49,"v":11},{"x":0.41,"y":0.49,"v":10},{"x":0.426,"y":0.49,"v":5},{"x":0.442,"y":0.49,"v":2},{"x":0.458,"y":0.49,"v":1},{"x":0.474,"y":0.49,"v":2},{"x":0.49,"y":0.49,"v":7}
]},
"mark":{"type":"rect","width":96,"height":88,"clip":true},
"encoding":{
"x":{"field":"x","type":"quantitative","scale":{"domain":[0,0.5],"nice":false,"zero":false},"axis":{"title":null,"grid":false,"values":[0,0.1,0.2,0.3,0.4,0.5],"format":".1~f","labelFont":"Liberation Sans","labelFontSize":81,"labelColor":"#262626","labelPadding":81,"labelFlush":false,"tickSize":-26,"tickColor":"#404040","tickWidth":3,"domainColor":"#404040","domainWidth":3,"zindex":0}},
"y":{"field":"y","type":"quantitative","scale":{"domain":[0,0.5],"nice":false,"zero":false},"axis":{"title":null,"grid":false,"values":[0,0.05,0.1,0.15,0.2,0.25,0.3,0.35,0.4,0.45,0.5],"format":".2~f","labelFont":"Liberation Sans","labelFontSize":81,"labelColor":"#262626","labelPadding":63,"labelOffset":7,"labelFlush":false,"tickSize":-26,"tickColor":"#404040","tickWidth":3,"domainColor":"#404040","domainWidth":3,"zindex":0}},
"color":{"field":"v","type":"quantitative","legend":null,"scale":{"domain":[0,1,2,3,4,5,6,7,8,9,10,11,12],"range":["#3b2a9f","#4130bf","#4a4cee","#3d74fb","#2b97e8","#08b8cf","#3fcb9a","#90cc5a","#c8bc30","#fdb73a","#fad62b","#f6ee1f","#fafc14"]}}
}}
